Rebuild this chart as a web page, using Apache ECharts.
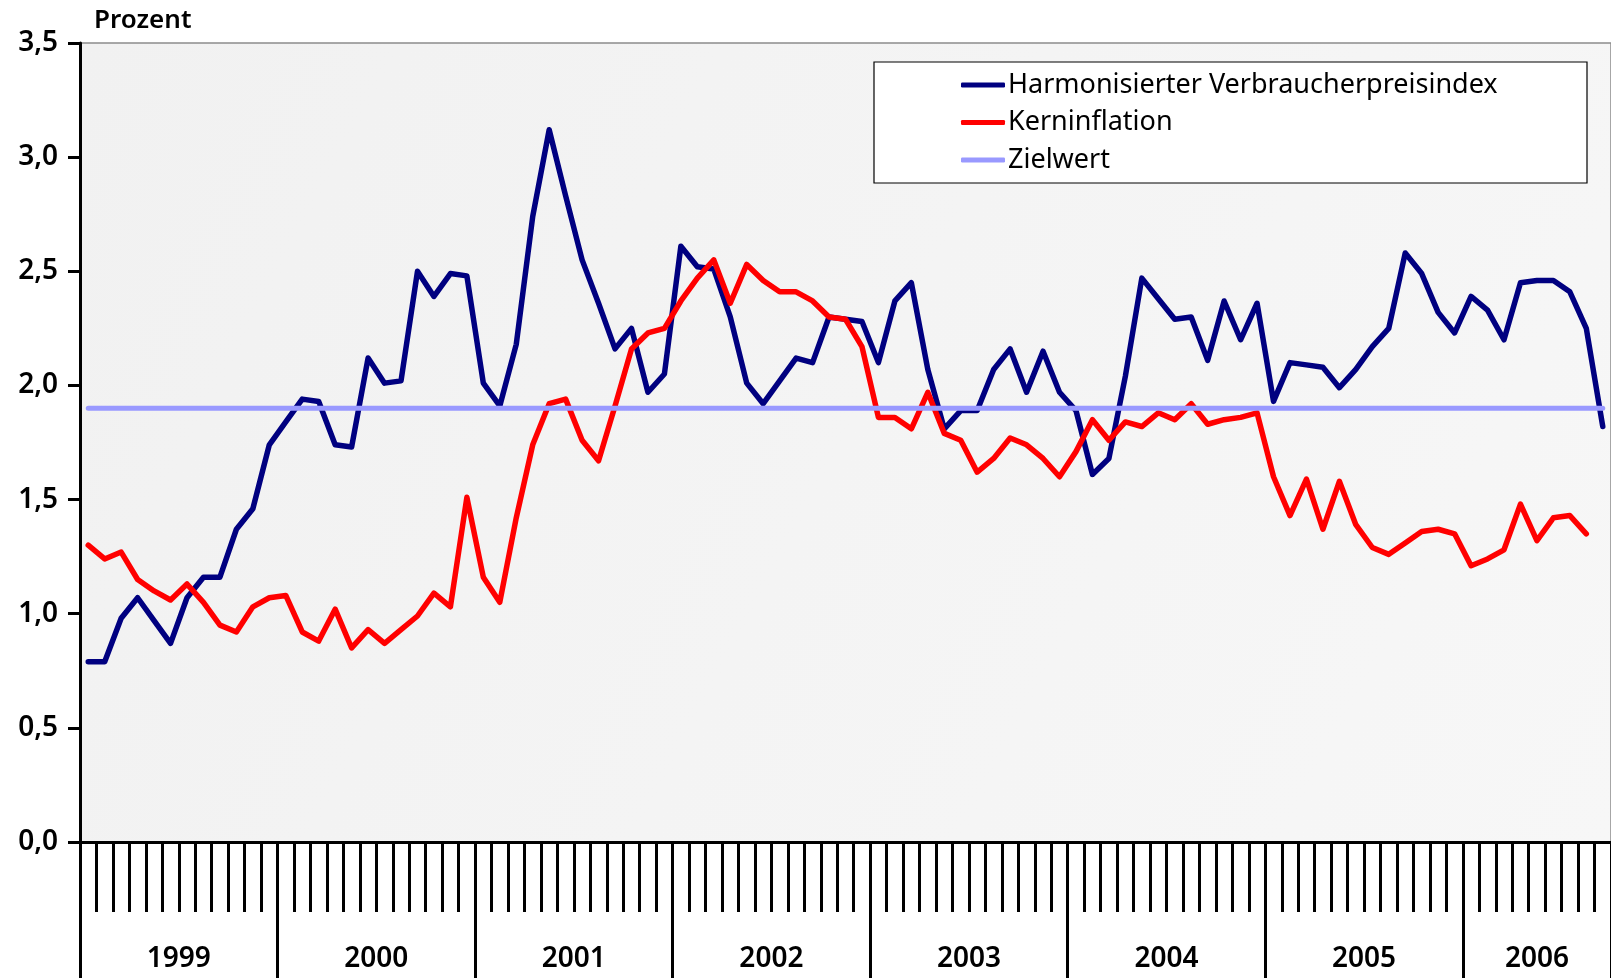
<!DOCTYPE html>
<html>
<head>
<meta charset="utf-8">
<script src="https://cdn.jsdelivr.net/npm/echarts@6/dist/echarts.min.js"></script>
<style>
html,body{margin:0;padding:0;background:#fff;overflow:hidden;}
#chart{width:1611px;height:978px;}
</style>
</head>
<body>
<div id="chart"></div>
<script>
// ---- data ----
const years = ['1999','2000','2001','2002','2003','2004','2005','2006'];
const monthsInLastYear = 9; // Jan–Sep 2006
const yTicks = [0, 0.5, 1.0, 1.5, 2.0, 2.5, 3.0, 3.5];

const hvpi = [
  0.79, 0.79, 0.98, 1.07, 0.97, 0.87, 1.07, 1.16, 1.16, 1.37, 1.46, 1.74,
  1.84, 1.94, 1.93, 1.74, 1.73, 2.12, 2.01, 2.02, 2.50, 2.39, 2.49, 2.48,
  2.01, 1.91, 2.18, 2.74, 3.12, 2.83, 2.55, 2.36, 2.16, 2.25, 1.97, 2.05,
  2.61, 2.52, 2.51, 2.30, 2.01, 1.92, 2.02, 2.12, 2.10, 2.30, 2.29, 2.28,
  2.10, 2.37, 2.45, 2.07, 1.81, 1.89, 1.89, 2.07, 2.16, 1.97, 2.15, 1.97,
  1.89, 1.61, 1.68, 2.04, 2.47, 2.38, 2.29, 2.30, 2.11, 2.37, 2.20, 2.36,
  1.93, 2.10, 2.09, 2.08, 1.99, 2.07, 2.17, 2.25, 2.58, 2.49, 2.32, 2.23,
  2.39, 2.33, 2.20, 2.45, 2.46, 2.46, 2.41, 2.25, 1.82
];
const kerninflation = [
  1.30, 1.24, 1.27, 1.15, 1.10, 1.06, 1.13, 1.05, 0.95, 0.92, 1.03, 1.07,
  1.08, 0.92, 0.88, 1.02, 0.85, 0.93, 0.87, 0.93, 0.99, 1.09, 1.03, 1.51,
  1.16, 1.05, 1.42, 1.74, 1.92, 1.94, 1.76, 1.67, 1.91, 2.16, 2.23, 2.25,
  2.37, 2.47, 2.55, 2.36, 2.53, 2.46, 2.41, 2.41, 2.37, 2.30, 2.29, 2.17,
  1.86, 1.86, 1.81, 1.97, 1.79, 1.76, 1.62, 1.68, 1.77, 1.74, 1.68, 1.60,
  1.71, 1.85, 1.76, 1.84, 1.82, 1.88, 1.85, 1.92, 1.83, 1.85, 1.86, 1.88,
  1.60, 1.43, 1.59, 1.37, 1.58, 1.39, 1.29, 1.26, 1.31, 1.36, 1.37, 1.35,
  1.21, 1.24, 1.28, 1.48, 1.32, 1.42, 1.43, 1.35, null
];
const zielwertValue = 1.9;
const seriesNames = ['Harmonisierter Verbraucherpreisindex', 'Kerninflation', 'Zielwert'];

// ---- categories (months) ----
const categories = [];
const yearOfMonth = [];
years.forEach(function (y, yi) {
  const n = (yi === years.length - 1) ? monthsInLastYear : 12;
  for (let m = 1; m <= n; m++) {
    categories.push(y + '-' + (m < 10 ? '0' + m : m));
    yearOfMonth.push(y);
  }
});
const zielwert = categories.map(function () { return zielwertValue; });
const lastYearStart = (years.length - 1) * 12;
const lastYearLabelIdx = lastYearStart + Math.floor(monthsInLastYear / 2);

const FONT = '"Noto Sans", "DejaVu Sans", sans-serif';

const chart = echarts.init(document.getElementById('chart'), null, {renderer: 'canvas'});
chart.setOption({
  animation: false,
  backgroundColor: '#ffffff',
  textStyle: {fontFamily: FONT},
  grid: {
    left: 80, top: 43, right: -5, bottom: 136,
    show: true,
    backgroundColor: {
      type: 'linear', x: 0, y: 0, x2: 1, y2: 1,
      colorStops: [{offset: 0, color: '#f1f1f1'}, {offset: 1, color: '#f7f7f7'}]
    },
    borderWidth: 1.5,
    borderColor: '#8c8c8c'
  },
  legend: {
    orient: 'vertical',
    left: 874, top: 62,
    data: seriesNames,
    icon: 'roundRect',
    itemWidth: 44, itemHeight: 5,
    itemGap: 7.5,
    padding: [8, 80, 8, 87],
    backgroundColor: '#ffffff',
    borderColor: '#000000',
    borderWidth: 1.2,
    borderRadius: 0,
    textStyle: {fontFamily: FONT, fontSize: 27, color: '#000', lineHeight: 30, width: 499, padding: [0, 0, 0, -2]}
  },
  xAxis: [
    {
      type: 'category',
      data: categories,
      boundaryGap: true,
      position: 'bottom',
      axisLine: {show: true, onZero: false, lineStyle: {color: '#000', width: 3}},
      axisTick: {show: true, interval: 0, length: 70, lineStyle: {color: '#000', width: 3}},
      axisLabel: {show: false},
      splitLine: {show: false}
    },
    {
      type: 'category',
      data: yearOfMonth,
      boundaryGap: true,
      position: 'bottom',
      axisLine: {show: false},
      axisTick: {
        show: true, length: 140,
        interval: function (index) { return index % 12 === 0; },
        lineStyle: {color: '#000', width: 3}
      },
      axisLabel: {
        show: true,
        margin: 103,
        interval: function (index) {
          return (index % 12 === 6 && index < lastYearStart) || index === lastYearLabelIdx;
        },
        formatter: function (value, index) {
          return index === lastYearLabelIdx ? '{c|' + value + '}' : '{s|' + value + '}';
        },
        rich: {
          s: {fontFamily: FONT, fontSize: 28, fontWeight: 600, color: '#000', padding: [0, 16.5, 0, 0]},
          c: {fontFamily: FONT, fontSize: 28, fontWeight: 600, color: '#000'}
        }
      },
      splitLine: {show: false}
    }
  ],
  yAxis: {
    type: 'value',
    min: yTicks[0], max: yTicks[yTicks.length - 1], interval: 0.5,
    name: 'Prozent',
    nameLocation: 'end',
    nameGap: 9,
    nameTextStyle: {fontFamily: FONT, fontSize: 26, fontWeight: 600, color: '#000', align: 'left', padding: [0, 0, 0, 14]},
    axisLine: {show: true, lineStyle: {color: '#000', width: 3}},
    axisTick: {show: true, inside: false, length: 12, lineStyle: {color: '#000', width: 3}},
    axisLabel: {
      margin: 22,
      fontFamily: FONT, fontSize: 28, fontWeight: 600, color: '#000',
      formatter: function (v) { return v.toFixed(1).replace('.', ','); }
    },
    splitLine: {show: false}
  },
  series: [
    {
      name: seriesNames[0], type: 'line', data: hvpi, xAxisIndex: 0,
      showSymbol: false, symbol: 'none',
      lineStyle: {color: '#000080', width: 5.5, join: 'round', cap: 'round'},
      itemStyle: {color: '#000080'}, z: 2
    },
    {
      name: seriesNames[1], type: 'line', data: kerninflation, xAxisIndex: 0,
      showSymbol: false, symbol: 'none',
      lineStyle: {color: '#ff0000', width: 5.5, join: 'round', cap: 'round'},
      itemStyle: {color: '#ff0000'}, z: 3
    },
    {
      name: seriesNames[2], type: 'line', data: zielwert, xAxisIndex: 0,
      showSymbol: false, symbol: 'none',
      lineStyle: {color: '#9999ff', width: 5, cap: 'round'},
      itemStyle: {color: '#9999ff'}, z: 4
    }
  ]
});
</script>
</body>
</html>
